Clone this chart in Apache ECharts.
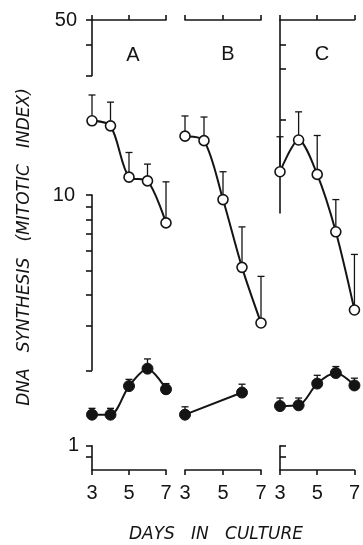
<!DOCTYPE html>
<html><head><meta charset="utf-8">
<script src="https://cdn.jsdelivr.net/npm/echarts@6/dist/echarts.min.js"></script>
<style>html,body{margin:0;padding:0;background:#fff}#c{width:363px;height:545px}</style>
</head><body><div id="c"></div>
<script>
// ---- data ----
const days = [3, 4, 5, 6, 7];
const aOpen = [19.8, 18.9, 11.8, 11.4, 7.75];
const aOpenErr = [25.1, 23.5, 14.8, 13.3, 11.3];
const bOpen = [17.2, 16.5, 9.6, 5.15, 3.09];
const bOpenErr = [20.7, 20.5, 12.4, 7.47, 4.74];
const cOpen = [12.4, 16.6, 12.1, 7.14, 3.48];
const cOpenErr = [17.1, 21.5, 17.3, 9.6, 5.8];
const aClosed = [1.33, 1.33, 1.73, 2.03, 1.68];
const aClosedErr = [1.41, 1.41, 1.84, 2.22, 1.77];
const bClosedDays = [3, 6];
const bClosed = [1.33, 1.63];
const bClosedErr = [1.43, 1.76];
const cClosed = [1.44, 1.45, 1.77, 1.95, 1.74];
const cClosedErr = [1.55, 1.55, 1.91, 2.07, 1.86];
const panelLabels = ['A', 'B', 'C'];
const xTickLabels = [3, 5, 7];
const yTopTicks = [30, 40, 50], yTopLabels = [50];
const yMidTicks = [2, 3, 4, 5, 6, 7, 8, 9, 10], yMidLabels = [10];
const yBotTicks = [0.9, 1], yBotLabels = [1];
const rightTopTicks = [20, 32, 40];

// ---- layout ----
const INK = '#141414';
const FONT = '"Liberation Sans", Arial, sans-serif';
const TFONT = '"DejaVu Sans", sans-serif';
const Y_MIN = 0.8, Y_MAX = 50, TOP = 20, H = 450;
const PPD = H / Math.log10(Y_MAX / Y_MIN);
const yPix = v => TOP + PPD * Math.log10(Y_MAX / v);
const panels = [{ left: 92, width: 74 }, { left: 185, width: 76 }, { left: 280, width: 76 }];

const grids = [], xAxes = [], yAxes = [], series = [];
function pair(a, b) { return a.map((v, i) => [v, b[i]]); }

panels.forEach((p, i) => {
  grids.push({ left: p.left, top: TOP, width: p.width, height: H });
  xAxes.push({ gridIndex: i, type: 'value', min: 3, max: 7, interval: 2, position: 'bottom',
    axisLine: { show: true, lineStyle: { color: INK, width: 1.6 } },
    axisTick: { show: true, inside: false, length: 5, lineStyle: { color: INK, width: 1.6 } },
    axisLabel: { show: true, margin: 13, color: INK, fontSize: 20, fontFamily: FONT, customValues: xTickLabels },
    splitLine: { show: false } });
  yAxes.push({ gridIndex: i, type: 'log', logBase: 10, min: Y_MIN, max: Y_MAX, show: false });
});
panels.forEach((p, i) => {
  xAxes.push({ gridIndex: i, type: 'value', min: 3, max: 7, interval: 2, position: 'top',
    axisLine: { show: true, onZero: false, lineStyle: { color: INK, width: 1.6 } },
    axisTick: { show: true, inside: false, length: 5, lineStyle: { color: INK, width: 1.6 } },
    axisLabel: { show: false }, splitLine: { show: false } });
});

// axis segments (broken y axes)
function seg(left, width, vmin, vmax, ticks, labels, pos, margin) {
  const gi = grids.length;
  grids.push({ left: left, width: width, top: yPix(vmax), height: yPix(vmin) - yPix(vmax) });
  xAxes.push({ gridIndex: gi, type: 'value', min: 0, max: 1, show: false });
  yAxes.push({ gridIndex: gi, type: 'log', logBase: 10, min: vmin, max: vmax, position: pos,
    axisLine: { show: true, lineStyle: { color: INK, width: 1.6 } },
    axisTick: { show: true, inside: false, length: 6, customValues: ticks, lineStyle: { color: INK, width: 1.6 } },
    axisLabel: { show: labels.length > 0, customValues: labels, margin: margin || 15, color: INK, fontSize: 20, fontFamily: FONT },
    splitLine: { show: false } });
}
seg(92, 74, 30, 50, yTopTicks, yTopLabels, 'left', 15);
seg(92, 74, 2, 10, yMidTicks, yMidLabels, 'left', 17);
seg(92, 74, Y_MIN, 1, yBotTicks, yBotLabels, 'left', 13);
seg(280, 76, 50 * Math.pow(10, -193 / PPD), 50, rightTopTicks, [], 'right');
seg(280, 76, Y_MIN, 1, yBotTicks, [], 'right');

// error bars
function errSeries(gi, xs, ys, es) {
  return { type: 'custom', xAxisIndex: gi, yAxisIndex: gi, z: 2, clip: false,
    data: xs.map((x, i) => [x, ys[i], es[i]]),
    renderItem: function (params, api) {
      const p0 = api.coord([api.value(0), api.value(1)]);
      const p1 = api.coord([api.value(0), api.value(2)]);
      const st = { stroke: INK, lineWidth: 1.3 };
      return { type: 'group', children: [
        { type: 'line', shape: { x1: p0[0], y1: p0[1], x2: p1[0], y2: p1[1] }, style: st },
        { type: 'line', shape: { x1: p1[0] - 3.5, y1: p1[1], x2: p1[0] + 3.5, y2: p1[1] }, style: st }
      ] };
    } };
}
function lineSeries(gi, xs, ys, open) {
  return { type: 'line', xAxisIndex: gi, yAxisIndex: gi, z: 3, clip: false, smooth: 0.3,
    data: pair(xs, ys), symbol: 'circle', symbolSize: open ? 10 : 11,
    itemStyle: open ? { color: '#fff', borderColor: INK, borderWidth: 1.6 } : { color: INK, borderColor: INK, borderWidth: 1 },
    lineStyle: { color: INK, width: 2 }, emphasis: { disabled: true }, animation: false };
}
series.push(errSeries(0, days, aOpen, aOpenErr), lineSeries(0, days, aOpen, true));
series.push(errSeries(1, days, bOpen, bOpenErr), lineSeries(1, days, bOpen, true));
series.push(errSeries(2, days, cOpen, cOpenErr), lineSeries(2, days, cOpen, true));
series.push(errSeries(0, days, aClosed, aClosedErr), lineSeries(0, days, aClosed, false));
series.push(errSeries(1, bClosedDays, bClosed, bClosedErr), lineSeries(1, bClosedDays, bClosed, false));
series.push(errSeries(2, days, cClosed, cClosedErr), lineSeries(2, days, cClosed, false));

const letterPos = [[133, 55], [228, 54], [322, 54]];
const graphic = panelLabels.map((t, i) => ({ type: 'text', x: letterPos[i][0], y: letterPos[i][1],
  style: { text: t, font: '20px ' + FONT, fill: INK, align: 'center', verticalAlign: 'middle' } }));
graphic.push({ type: 'text', x: 25, y: 247, rotation: Math.PI / 2,
  style: { text: 'DNA   SYNTHESIS   (MITOTIC   INDEX)', font: 'italic 17px ' + TFONT, fill: INK, align: 'center', verticalAlign: 'middle' } });
graphic.push({ type: 'text', x: 216, y: 535,
  style: { text: 'DAYS   IN   CULTURE', font: 'italic 17px ' + TFONT, fill: INK, align: 'center', verticalAlign: 'middle' } });

const chart = echarts.init(document.getElementById('c'), null, { renderer: 'canvas' });
chart.setOption({ animation: false, backgroundColor: '#fff', grid: grids, xAxis: xAxes, yAxis: yAxes, series: series, graphic: graphic });
</script></body></html>
